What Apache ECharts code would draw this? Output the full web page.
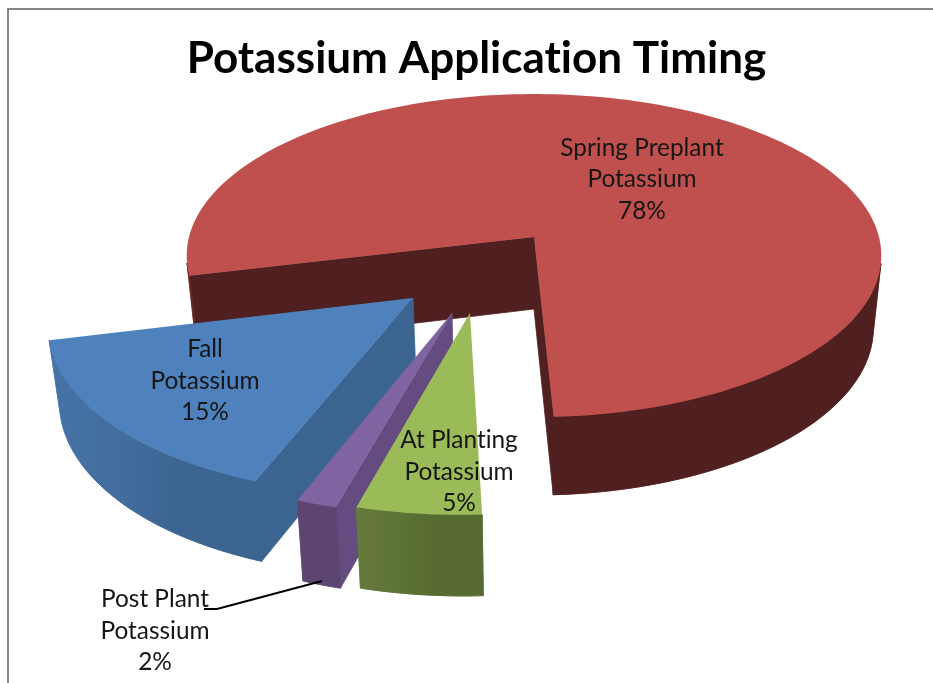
<!DOCTYPE html>
<html>
<head>
<meta charset="utf-8">
<style>
html, body { margin: 0; padding: 0; background: #fff; }
#chart { width: 933px; height: 683px; }
</style>
<script src="https://cdn.jsdelivr.net/npm/echarts@6/dist/echarts.min.js"></script>
</head>
<body>
<div id="chart"></div>
<script>
// data, in drawing order (back to front)
var categories = ['Spring Preplant\nPotassium', 'Fall\nPotassium', 'Post Plant\nPotassium', 'At Planting\nPotassium'];
var shares = [78, 15.49, 1.6, 4.91];

// top and bottom rim of the pie, seen in perspective
var topRim = { A: 345, B: 159.4, cy: 237, k: 0.115 };
var bottomRim = { A: 337, B: 164.6, cy: 309, k: 0.115 };
var centerX = 534;
var firstAngle = 537.1;   // degrees clockwise from the top, walking back from here

// one entry per slice: how far it is pulled out, colours, label place
var explode = [[0, 0], [-0.336, 0.3666], [-0.2253, 0.452], [-0.1759, 0.452]];
var topColors = ['#C0504D', '#4F81BD', '#8064A2', '#9BBB59'];
var wallColors = ['#4F201F', '#3C6491', '#654C80', '#576B31'];
var sideColors = [
    ['#4F201F', '#4F201F', '#4F201F', '#652A28'],
    ['#3C6491', '#3C6491', '#426D9E', '#4672A6'],
    ['#5C4570', '#5C4570', '#5C4570', '#5C4570'],
    ['#566A31', '#566A31', '#5E7336', '#64793A']
];
var labelSpots = [[642, 179.5], [205, 381], [155, 631], [459, 472]];

function project(rim, u, v) {
    var w = 1 - rim.k * v;
    return [centerX + rim.A * u / w, rim.cy + rim.B * v / w];
}

function rimPoint(rim, off, deg) {
    var a = deg * Math.PI / 180;
    return project(rim, off[0] + Math.sin(a), off[1] - Math.cos(a));
}

// true when the wall under the edge p->q faces the viewer
function facing(p, q, pDown) {
    return (q[0] - p[0]) * (pDown[1] - p[1]) - (q[1] - p[1]) * (pDown[0] - p[0]) < 0;
}

function sliceAngles(index) {
    var hi = firstAngle;
    for (var i = 0; i < index; i++) {
        hi -= shares[i] * 3.6;
    }
    return [hi - shares[index] * 3.6, hi];
}

function renderSlice(params, api) {
    var i = params.dataIndex;
    var off = explode[i];
    var range = sliceAngles(i);
    var steps = Math.max(6, Math.ceil((range[1] - range[0]) / 1.5));
    var tops = [], bottoms = [];
    for (var s = 0; s <= steps; s++) {
        var deg = range[0] + (range[1] - range[0]) * s / steps;
        tops.push(rimPoint(topRim, off, deg));
        bottoms.push(rimPoint(bottomRim, off, deg));
    }
    var apexTop = project(topRim, off[0], off[1]);
    var apexBottom = project(bottomRim, off[0], off[1]);
    var children = [];

    // cut faces
    if (facing(apexTop, tops[0], apexBottom)) {
        children.push(wall(apexTop, tops[0], bottoms[0], apexBottom, wallColors[i]));
    }
    if (facing(tops[steps], apexTop, bottoms[steps])) {
        children.push(wall(tops[steps], apexTop, apexBottom, bottoms[steps], wallColors[i]));
    }

    // outer side, only the runs that face the viewer
    var minX = Infinity, maxX = -Infinity;
    tops.forEach(function (p) {
        minX = Math.min(minX, p[0]);
        maxX = Math.max(maxX, p[0]);
    });
    var fill = {
        type: 'linear', global: true, x: minX, y: 0, x2: maxX, y2: 0,
        colorStops: i === 0
            ? [{ offset: 0, color: sideColors[i][3] }, { offset: 0.36, color: sideColors[i][0] }, { offset: 1, color: sideColors[i][0] }]
            : sideColors[i].map(function (c, n) { return { offset: 1 - n / 3, color: c }; })
    };
    var upper = [], lower = [];
    for (var n = 0; n < steps; n++) {
        if (facing(tops[n], tops[n + 1], bottoms[n])) {
            if (!upper.length) {
                upper.push(tops[n]);
                lower.push(bottoms[n]);
            }
            upper.push(tops[n + 1]);
            lower.push(bottoms[n + 1]);
        } else if (upper.length) {
            children.push(band(upper, lower, fill));
            upper = [];
            lower = [];
        }
    }
    if (upper.length) {
        children.push(band(upper, lower, fill));
    }

    // top face
    children.push({
        type: 'polygon',
        shape: { points: [apexTop].concat(tops) },
        style: { fill: topColors[i] }
    });

    // label
    children.push({
        type: 'text',
        z2: 10,
        style: {
            text: categories[i] + '\n' + Math.round(api.value(0)) + '%',
            x: labelSpots[i][0],
            y: labelSpots[i][1],
            align: 'center',
            verticalAlign: 'middle',
            fontFamily: 'Lato',
            fontSize: 24.4,
            lineHeight: 31.5,
            fill: '#161616'
        }
    });
    return { type: 'group', children: children };
}

// the thin stroke closes the seam under the top face
function wall(a, b, c, d, color) {
    return {
        type: 'polygon',
        shape: { points: [a, b, c, d] },
        style: { fill: color, stroke: color, lineWidth: 0.8 }
    };
}

function band(upper, lower, fill) {
    return {
        type: 'polygon',
        shape: { points: upper.concat(lower.slice().reverse()) },
        style: { fill: fill, stroke: fill, lineWidth: 0.8 }
    };
}

var chart = echarts.init(document.getElementById('chart'), null, { renderer: 'canvas' });

var option = {
    animation: false,
    backgroundColor: '#fff',
    title: {
        text: 'Potassium Application Timing',
        left: 471.5,
        top: 32,
        textAlign: 'center',
        textStyle: { fontFamily: 'Lato', fontWeight: 'bold', fontSize: 44, color: '#000' }
    },
    graphic: [
        {
            type: 'polyline',
            shape: { points: [[8, 683], [8, 9], [933, 9]] },
            style: { stroke: '#858585', lineWidth: 2, fill: null }
        },
        {
            type: 'polyline',
            z: 5,
            shape: { points: [[204, 609], [217, 609], [322, 581]] },
            style: { stroke: '#000', lineWidth: 2, fill: null }
        }
    ],
    series: [{
        type: 'custom',
        coordinateSystem: 'none',
        renderItem: renderSlice,
        data: shares.map(function (v) { return [v]; })
    }]
};
chart.setOption(option);

// no "ti" ligature in Lato, the original font has none; the canvas only exists after the first paint
var canvas = chart.getDom().querySelector('canvas');
if (canvas) {
    canvas.getContext('2d').textRendering = 'optimizeSpeed';
    chart.setOption(option, true);
}

window.onresize = function () {
    chart.resize();
};
</script>
</body>
</html>
